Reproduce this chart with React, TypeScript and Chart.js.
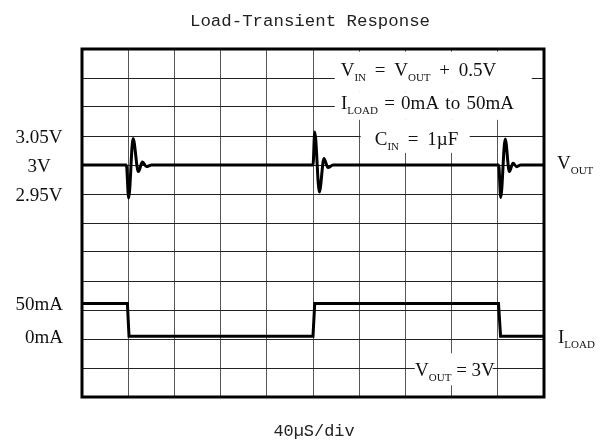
import React, { useEffect, useRef } from 'react';
import { Chart, registerables } from 'chart.js';

Chart.register(...registerables);

// ---- data ----
const chartTitle = 'Load-Transient Response';
const timeAxisLabel = '40µS/div';
const timeMinUs = 0;
const timeMaxUs = 400;
const timeDivUs = 40;

// V_OUT trace (time in µs, volts)
const voutTimeUs = [0, 38.4, 40.4, 44.2, 48.8, 52.3, 55.8, 60.1, 200.0, 201.5, 205.5, 209.5, 213.0, 217.3, 360.8, 362.5, 366.4, 370.0, 373.2, 376.4, 379.8, 400];
const voutVolts = [3.0, 3.0, 2.943, 3.0455, 2.9886, 3.0052, 2.9972, 3.0, 3.0, 3.057, 2.9534, 3.011, 2.9955, 3.0, 3.0, 2.9438, 3.045, 2.9886, 3.003, 2.997, 3.0, 3.0];

// I_LOAD trace (time in µs, mA)
const iloadTimeUs = [0, 39.3, 40.7, 200.0, 201.5, 360.6, 362.4, 400];
const iloadMilliamps = [50, 50, 0, 0, 50, 50, 0, 0];

// axis ranges
const voltMin = 2.6;
const voltMax = 3.2;
const currentMin = -93;
const currentMax = 439;
const gridRows = 12;

// tick labels
const voltTickValues = [3.05, 3.0, 2.95];
const voltTickLabels = ['3.05V', '3V', '2.95V'];
const currentTickValues = [50, 0];
const currentTickLabels = ['50mA', '0mA'];

// rich text: [text, isSubscript]
type Part = [string, boolean];
const voutName: Part[] = [['V', false], ['OUT', true]];
const iloadName: Part[] = [['I', false], ['LOAD', true]];
const noteVin: Part[] = [['V', false], ['IN', true], [' = V', false], ['OUT', true], [' + 0.5V', false]];
const noteIload: Part[] = [['I', false], ['LOAD', true], [' = 0mA to 50mA', false]];
const noteCin: Part[] = [['C', false], ['IN', true], [' = 1µF', false]];
const noteVout: Part[] = [['V', false], ['OUT', true], [' = 3V', false]];

const MAIN_FONT = "19px 'Liberation Serif'";
const SUB_FONT = "11px 'Liberation Serif'";

function pieceWidth(ctx: CanvasRenderingContext2D, t: string, gap: number) {
  const spaces = (t.match(/ /g) || []).length;
  return ctx.measureText(t).width + spaces * gap;
}

function drawRich(ctx: CanvasRenderingContext2D, parts: Part[], x: number, yc: number, align: 'left' | 'center' | 'right', gap = 0) {
  let total = 0;
  const widths = parts.map(([t, sub]) => {
    ctx.font = sub ? SUB_FONT : MAIN_FONT;
    const w = pieceWidth(ctx, t, gap);
    total += w;
    return w;
  });
  let cx = align === 'center' ? x - total / 2 : align === 'right' ? x - total : x;
  const base = yc + 6.5;
  ctx.textAlign = 'left';
  ctx.textBaseline = 'alphabetic';
  parts.forEach(([t, sub], i) => {
    ctx.font = sub ? SUB_FONT : MAIN_FONT;
    const y = sub ? base + 5 : base;
    let px = cx;
    for (const tok of t.split(/( )/)) {
      if (tok === '') continue;
      if (tok === ' ') {
        px += ctx.measureText(' ').width + gap;
      } else {
        ctx.fillText(tok, px, y);
        px += ctx.measureText(tok).width;
      }
    }
    cx += widths[i];
  });
}

const overlayPlugin = {
  id: 'scopeOverlay',
  beforeDatasetsDraw(chart: any) {
    const { ctx, scales } = chart;
    const xs = scales.x;
    const gs = scales.g;
    // white patches behind the annotation texts: [t0, t1, g0, g1]
    const patches = [
      [218.8, 389.4, 11.907, 10.525],
      [218.8, 400, 10.525, 9.558],
      [241.3, 335.7, 9.558, 8.418],
      [288.1, 355.6, 1.509, 0.404],
    ];
    ctx.save();
    ctx.fillStyle = '#ffffff';
    for (const p of patches) {
      const x0 = xs.getPixelForValue(p[0]);
      const x1 = xs.getPixelForValue(p[1]);
      const y0 = gs.getPixelForValue(p[2]);
      const y1 = gs.getPixelForValue(p[3]);
      ctx.fillRect(x0, y0, x1 - x0, y1 - y0);
    }
    ctx.restore();
  },
  afterDatasetsDraw(chart: any) {
    const { ctx, chartArea, scales } = chart;
    const xs = scales.x;
    const gs = scales.g;
    const yv = scales.yv;
    const yi = scales.yi;
    ctx.save();
    // frame
    ctx.strokeStyle = '#000';
    ctx.lineWidth = 3;
    ctx.strokeRect(chartArea.left, chartArea.top, chartArea.right - chartArea.left, chartArea.bottom - chartArea.top);

    // title and time-base label
    ctx.font = "17.4px 'Liberation Mono'";
    ctx.textAlign = 'center';
    ctx.textBaseline = 'alphabetic';
    const midX = (chartArea.left + chartArea.right) / 2;
    ctx.fillStyle = '#222';
    ctx.fillText(chartTitle, midX - 3, 25.5);
    ctx.font = "16.9px 'Liberation Mono'";
    ctx.fillText(timeAxisLabel, midX + 1, chartArea.bottom + 39);

    ctx.fillStyle = '#111';
    // left tick labels
    voltTickValues.forEach((v, i) => {
      drawRich(ctx, [[voltTickLabels[i], false]], chartArea.left - 43, yv.getPixelForValue(v), 'center');
    });
    currentTickValues.forEach((v, i) => {
      drawRich(ctx, [[currentTickLabels[i], false]], chartArea.left - 19, yi.getPixelForValue(v), 'right');
    });
    // right trace names
    drawRich(ctx, voutName, chartArea.right + 13, yv.getPixelForValue(3.0) - 3, 'left');
    drawRich(ctx, iloadName, chartArea.right + 14, yi.getPixelForValue(0), 'left');

    // annotations
    drawRich(ctx, noteVin, xs.getPixelForValue(291.3), gs.getPixelForValue(11.276), 'center', 4);
    drawRich(ctx, noteIload, xs.getPixelForValue(299.1), gs.getPixelForValue(10.155), 'center', 1.5);
    drawRich(ctx, noteCin, xs.getPixelForValue(289.6), gs.getPixelForValue(8.931), 'center', 4);
    drawRich(ctx, noteVout, xs.getPixelForValue(322.9), gs.getPixelForValue(0.948), 'center', 0);
    ctx.restore();
  },
};

export default function App() {
  const canvasRef = useRef<HTMLCanvasElement | null>(null);

  useEffect(() => {
    if (!canvasRef.current) return;
    const chart = new Chart(canvasRef.current, {
      type: 'line',
      data: {
        datasets: [
          {
            label: 'VOUT',
            data: voutTimeUs.map((t, i) => ({ x: t, y: voutVolts[i] })),
            xAxisID: 'x',
            yAxisID: 'yv',
            borderColor: '#000',
            borderWidth: 3,
            pointRadius: 0,
            cubicInterpolationMode: 'monotone',
            borderJoinStyle: 'round',
            fill: false,
          },
          {
            label: 'ILOAD',
            data: iloadTimeUs.map((t, i) => ({ x: t, y: iloadMilliamps[i] })),
            xAxisID: 'x',
            yAxisID: 'yi',
            borderColor: '#000',
            borderWidth: 3,
            pointRadius: 0,
            tension: 0,
            fill: false,
          },
        ],
      },
      options: {
        animation: false,
        responsive: false,
        devicePixelRatio: 1,
        events: [],
        layout: { padding: { left: 82, right: 63, top: 49, bottom: 44 } },
        plugins: {
          legend: { display: false },
          tooltip: { enabled: false },
          title: { display: false },
        },
        scales: {
          x: {
            type: 'linear',
            min: timeMinUs,
            max: timeMaxUs,
            ticks: { stepSize: timeDivUs, display: false },
            grid: { color: '#555', lineWidth: 1, drawTicks: false },
            border: { display: false },
          },
          g: {
            type: 'linear',
            position: 'left',
            min: 0,
            max: gridRows,
            ticks: { stepSize: 1, display: false },
            grid: { color: '#222', lineWidth: 1, drawTicks: false },
            border: { display: false },
          },
          yv: { type: 'linear', min: voltMin, max: voltMax, display: false },
          yi: { type: 'linear', min: currentMin, max: currentMax, display: false },
        },
      } as any,
      plugins: [overlayPlugin],
    });
    return () => chart.destroy();
  }, []);

  return (
    <div style={{ position: 'absolute', left: 0, top: 0, width: 607, height: 441, background: '#fff' }}>
      <canvas ref={canvasRef} width={607} height={441} />
    </div>
  );
}
